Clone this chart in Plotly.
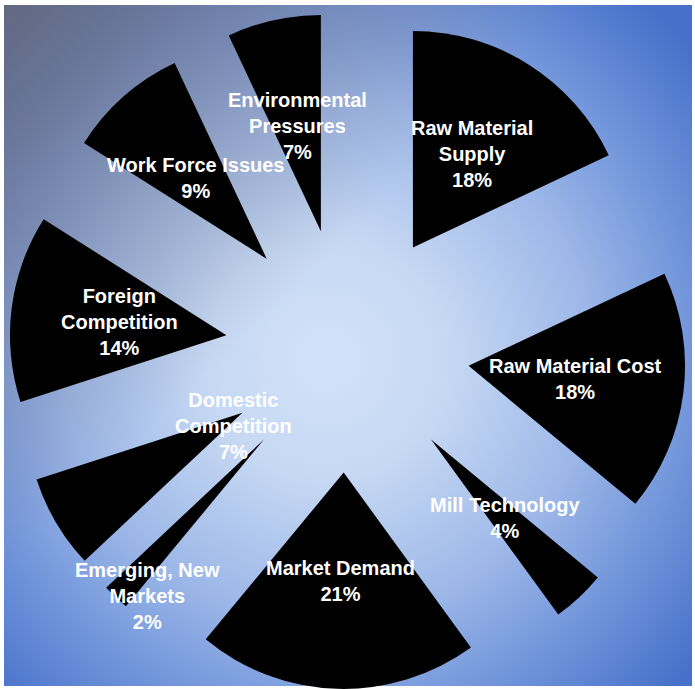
import math
import base64
import plotly.graph_objects as go

# ---- data ----
categories = ["Raw Material Supply", "Raw Material Cost", "Mill Technology",
              "Market Demand", "Emerging, New Markets", "Domestic Competition",
              "Foreign Competition", "Work Force Issues", "Environmental Pressures"]
values = [18, 18, 4, 21, 2, 7, 14, 9, 7]
label_lines = ["Raw Material<br>Supply", "Raw Material Cost", "Mill Technology",
               "Market Demand", "Emerging, New<br>Markets", "Domestic<br>Competition",
               "Foreign<br>Competition", "Work Force Issues", "Environmental<br>Pressures"]

# ---- style ----
W, H = 695, 689
TOP_GAP = 12            # px above the pie domain
PULL = 0.564
label_radius = [0.51, 0.5, 0.5, 0.5, 0.9, 0.07, 0.5, 0.5, 0.5]   # fraction of r outward from slice apex
label_angle_shift = [0, 0, 0, 0, -4, -3, 0, 0, 0]                  # degrees
FONT = dict(family="Liberation Sans, Arial, sans-serif", size=20, color="white")

# ---- background gradient (SVG data URI) ----
svg = """<svg xmlns='http://www.w3.org/2000/svg' width='688' height='681' viewBox='0 0 688 681' preserveAspectRatio='none'>
<defs>
<radialGradient id='g' cx='0.47' cy='0.52' r='0.70'>
<stop offset='0' stop-color='#d2e2f8'/>
<stop offset='0.25' stop-color='#c6d8f3'/>
<stop offset='0.55' stop-color='#9cb7e8'/>
<stop offset='0.8' stop-color='#6a8fd8'/>
<stop offset='1' stop-color='#4670c9'/>
</radialGradient>
<linearGradient id='t' x1='0' y1='0' x2='0.42' y2='0.42'>
<stop offset='0' stop-color='#66687a' stop-opacity='0.92'/>
<stop offset='1' stop-color='#7a7f95' stop-opacity='0'/>
</linearGradient>
</defs>
<rect width='688' height='681' fill='url(#g)'/>
<rect width='688' height='681' fill='url(#t)'/>
</svg>"""
bg_uri = "data:image/svg+xml;base64," + base64.b64encode(svg.encode()).decode()

fig = go.Figure()
dom_top = 1 - TOP_GAP / H
fig.add_trace(go.Pie(
    labels=categories, values=values, sort=False, direction="clockwise", rotation=0,
    pull=[PULL] * len(values),
    marker=dict(colors=["#000000"] * len(values), line=dict(width=0)),
    textinfo="none", hoverinfo="label+percent", showlegend=False,
    domain=dict(x=[0, 1], y=[0, dom_top]),
))

# label positions derived from the pie geometry and the values
avail_w, avail_h = W, H - TOP_GAP
r = min(avail_w, avail_h) / 2 / (1 + PULL)
cx, cy = W / 2, TOP_GAP + avail_h / 2
total = sum(values)
cum = 0
for v, lab, f, da in zip(values, label_lines, label_radius, label_angle_shift):
    theta = 2 * math.pi * (cum + v / 2) / total + math.radians(da)
    cum += v
    d = (PULL + f) * r
    xp = cx + d * math.sin(theta)
    yp = cy - d * math.cos(theta)
    pct = f"{round(v / total * 100)}%"
    fig.add_annotation(x=xp / W, y=1 - yp / H, xref="paper", yref="paper",
                       text=f"<b>{lab}<br>{pct}</b>", showarrow=False,
                       xanchor="center", yanchor="middle", font=FONT, align="center")

fig.update_layout(
    width=W, height=H, margin=dict(l=0, r=0, t=0, b=0),
    paper_bgcolor="white", plot_bgcolor="white",
    images=[dict(source=bg_uri, xref="paper", yref="paper",
                 x=4 / W, y=1 - 5 / H, sizex=688 / W, sizey=681 / H,
                 xanchor="left", yanchor="top", sizing="stretch", layer="below")],
)

fig.write_html("out.html")
